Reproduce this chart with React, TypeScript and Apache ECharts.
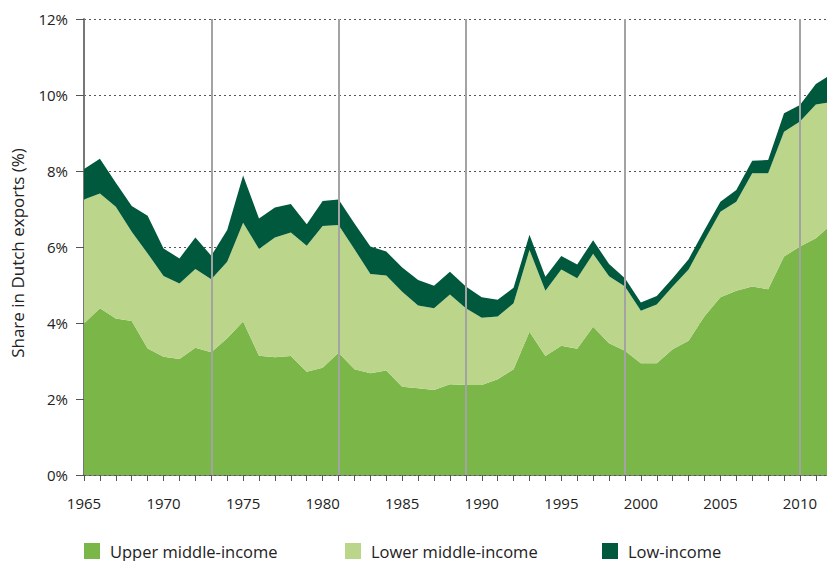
import React, { useEffect, useRef } from "react";
import * as echarts from "echarts";

const years = [1965,1966,1967,1968,1969,1970,1971,1972,1973,1974,1975,1976,1977,1978,1979,1980,1981,1982,1983,1984,1985,1986,1987,1988,1989,1990,1991,1992,1993,1994,1995,1996,1997,1998,1999,2000,2001,2002,2003,2004,2005,2006,2007,2008,2009,2010,2011,2012];
const upperMiddle = [3.99,4.39,4.12,4.05,3.33,3.11,3.05,3.35,3.23,3.60,4.04,3.14,3.10,3.13,2.72,2.82,3.22,2.78,2.68,2.75,2.32,2.28,2.24,2.39,2.37,2.37,2.52,2.78,3.77,3.13,3.40,3.32,3.90,3.47,3.27,2.94,2.94,3.31,3.53,4.18,4.68,4.85,4.96,4.89,5.75,6.01,6.23,6.60];
const lowerMiddle = [3.26,3.02,2.94,2.35,2.50,2.13,1.99,2.07,1.92,2.01,2.60,2.81,3.15,3.25,3.31,3.73,3.36,3.16,2.61,2.50,2.50,2.18,2.15,2.36,2.02,1.77,1.65,1.74,2.15,1.72,2.01,1.86,1.92,1.76,1.69,1.38,1.55,1.65,1.88,2.00,2.25,2.34,2.98,3.05,3.28,3.29,3.52,3.22];
const lowIncome = [0.80,0.91,0.63,0.68,0.99,0.72,0.66,0.83,0.62,0.84,1.24,0.80,0.79,0.75,0.57,0.66,0.67,0.68,0.72,0.63,0.64,0.67,0.59,0.60,0.57,0.54,0.44,0.41,0.40,0.37,0.35,0.36,0.36,0.32,0.22,0.22,0.22,0.22,0.27,0.27,0.26,0.31,0.33,0.35,0.49,0.44,0.54,0.73];
const periodLines = [1973, 1981, 1989, 1999, 2010];
const seriesNames = ["Upper middle-income", "Lower middle-income", "Low-income"];
const seriesColors = ["#7ab648", "#bbd58b", "#00583d"];

const FONT = "Open Sans";

export default function App() {
  const ref = useRef<HTMLDivElement>(null);
  useEffect(() => {
    const chart = echarts.init(ref.current!, null, { renderer: "svg" });
    const datasets = [upperMiddle, lowerMiddle, lowIncome];
    const series: any[] = datasets.map((vals, i) => ({
      name: seriesNames[i],
      type: "line",
      stack: "total",
      symbol: "none",
      lineStyle: { width: 0 },
      areaStyle: { color: seriesColors[i], opacity: 1 },
      itemStyle: { color: seriesColors[i] },
      dimensions: ["share", "year"],
      encode: { x: "year", y: "share" },
      data: years.map((y, k) => [vals[k], y]),
    }));
    series[2].markLine = {
      silent: true,
      symbol: "none",
      label: { show: false },
      lineStyle: { color: "#a3a3a3", width: 2, type: "solid" },
      data: periodLines.map((x) => ({ xAxis: x })),
    };
    const legendLefts = [84, 345, 602];
    const legendGraphics: any[] = [];
    seriesNames.forEach((n, i) => {
      legendGraphics.push({
        type: "rect",
        shape: { x: legendLefts[i], y: 543, width: 16, height: 16 },
        style: { fill: seriesColors[i] },
      });
      legendGraphics.push({
        type: "text",
        x: legendLefts[i] + 26,
        y: 551,
        style: {
          text: n,
          fontFamily: FONT,
          fontSize: 16.5,
          fill: "#222",
          align: "left",
          verticalAlign: "middle",
        },
      });
    });
    chart.setOption({
      animation: false,
      textStyle: { fontFamily: FONT },
      grid: { left: 84, right: 0, top: 19, bottom: 86 },
      xAxis: {
        type: "value",
        min: 1965,
        max: 2011.7,
        interval: 1,
        splitLine: { show: false },
        axisLine: { lineStyle: { color: "#555", width: 1.5 } },
        axisTick: { show: true, length: 6, lineStyle: { color: "#555" } },
        axisLabel: {
          margin: 20,
          fontSize: 15,
          color: "#222",
          fontFamily: FONT,
          showMaxLabel: false,
          formatter: (v: number) => (v % 5 === 0 ? String(v) : ""),
        },
      },
      yAxis: {
        type: "value",
        min: 0,
        max: 12,
        interval: 2,
        axisLine: { show: true, lineStyle: { color: "#777", width: 2 } },
        axisTick: { show: true, length: 8, lineStyle: { color: "#555" } },
        axisLabel: { margin: 16, fontSize: 15, color: "#222", fontFamily: FONT, formatter: "{value}%" },
        splitLine: { show: true, lineStyle: { color: "#555", type: [2, 3], width: 1 } },
      },
      graphic: [
        {
          type: "text",
          x: 17,
          y: 253,
          rotation: Math.PI / 2,
          style: {
            text: "Share in Dutch exports (%)",
            fontFamily: FONT,
            fontSize: 17,
            fill: "#222",
            align: "center",
            verticalAlign: "middle",
          },
        },
        ...legendGraphics,
      ],
      series,
    });
    return () => chart.dispose();
  }, []);
  return (
    <div
      ref={ref}
      style={{ position: "absolute", left: 0, top: 0, width: 827, height: 561 }}
    />
  );
}
